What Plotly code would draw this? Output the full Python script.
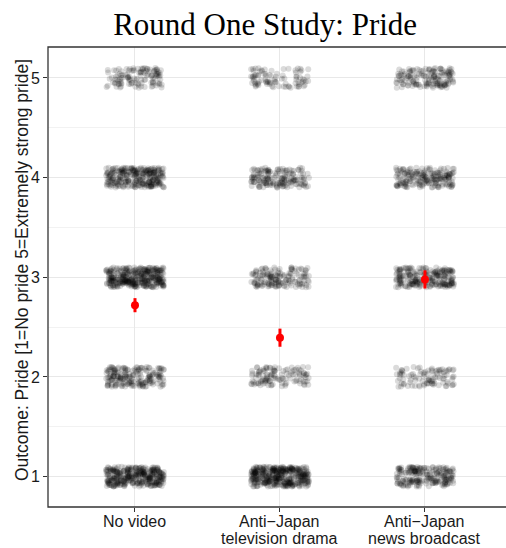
import numpy as np
import plotly.graph_objects as go

# Treatment conditions (x axis) and the five-point pride scale (y axis)
cond_line1 = ["No video", "Anti−Japan", "Anti−Japan"]
cond_line2 = ["", "television drama", "news broadcast"]
levels = [1, 2, 3, 4, 5]

# Number of respondents giving each answer, per condition
counts_no_video = [350, 200, 360, 290, 120]
counts_drama = [400, 120, 160, 170, 90]
counts_news = [220, 100, 235, 200, 160]
all_counts = [counts_no_video, counts_drama, counts_news]

JITTER_W = 0.2
JITTER_H = 0.1
jitter = np.random.default_rng(7)

px, py = [], []
means, cis = [], []
for ci_idx, counts in enumerate(all_counts):
    xc = ci_idx + 1
    answers = []
    for lvl, n in zip(levels, counts):
        answers += [lvl] * n
        # jitter each respondent's point around its (condition, answer) cell
        px.extend(xc + jitter.uniform(-JITTER_W, JITTER_W, n))
        py.extend(lvl + jitter.uniform(-JITTER_H, JITTER_H, n))
    arr = np.array(answers, dtype=float)
    means.append(arr.mean())
    cis.append(1.96 * arr.std(ddof=1) / np.sqrt(arr.size))

fig = go.Figure()

fig.add_trace(go.Scatter(
    x=px, y=py, mode="markers",
    marker=dict(size=6, color="rgba(0,0,0,0.14)", line=dict(width=0)),
    hoverinfo="skip", showlegend=False,
))

fig.add_trace(go.Scatter(
    x=[1, 2, 3], y=means, mode="markers",
    marker=dict(size=8, color="red", line=dict(width=0)),
    error_y=dict(type="data", array=cis, color="red", thickness=3, width=0),
    showlegend=False,
))

# Panel border (right side runs off the page)
fig.add_shape(type="rect", xref="paper", yref="paper", x0=0, x1=1.05, y0=0, y1=1,
              line=dict(color="#333333", width=1.3), fillcolor="rgba(0,0,0,0)", layer="above")

# Two-line category labels, set tight under the panel
label_font = dict(family="Liberation Sans, Arial, sans-serif", size=16, color="#1a1a1a")
for i, (l1, l2) in enumerate(zip(cond_line1, cond_line2)):
    fig.add_annotation(x=i + 1, xref="x", y=0, yref="paper", text=l1, showarrow=False,
                       xanchor="center", yanchor="top", yshift=-4, font=label_font)
    if l2:
        fig.add_annotation(x=i + 1, xref="x", y=0, yref="paper", text=l2, showarrow=False,
                           xanchor="center", yanchor="top", yshift=-21, font=label_font)

# Vertical axis title
fig.add_annotation(x=0, xref="paper", y=0.515, yref="paper", xshift=-26,
                   text="Outcome: Pride [1=No pride 5=Extremely strong pride]",
                   textangle=-90, showarrow=False, xanchor="center", yanchor="middle",
                   font=dict(family="Liberation Sans, Arial, sans-serif", size=17.5, color="#1a1a1a"))

fig.update_layout(
    width=506, height=548,
    margin=dict(l=48, r=0, t=47, b=41, autoexpand=False),
    paper_bgcolor="white", plot_bgcolor="white",
    font=dict(family="Liberation Sans, Arial, sans-serif", size=16, color="#1a1a1a"),
    title=dict(text="Round One Study: Pride", xref="container", x=0.524, xanchor="center",
               yref="container", y=0.937, yanchor="bottom",
               font=dict(family="Liberation Serif, Times New Roman, serif", size=31, color="black")),
    xaxis=dict(
        range=[0.4, 3.559], tickmode="array", tickvals=[1, 2, 3], showticklabels=False,
        showgrid=True, gridcolor="#e8e8e8", gridwidth=1.2, automargin=False,
        ticks="outside", ticklen=4, tickcolor="#333333", tickwidth=1,
        showline=False, zeroline=False,
    ),
    yaxis=dict(
        range=[0.695, 5.31], tickmode="array", tickvals=levels, automargin=False,
        showgrid=True, gridcolor="#e8e8e8", gridwidth=1.2,
        minor=dict(tickvals=[1.5, 2.5, 3.5, 4.5], showgrid=True, gridcolor="#f2f2f2", gridwidth=0.7),
        ticks="outside", ticklen=4, tickcolor="#333333", tickwidth=1,
        showline=False, zeroline=False, tickfont=dict(size=16, color="#1a1a1a"),
    ),
)

fig.write_html("out.html")
